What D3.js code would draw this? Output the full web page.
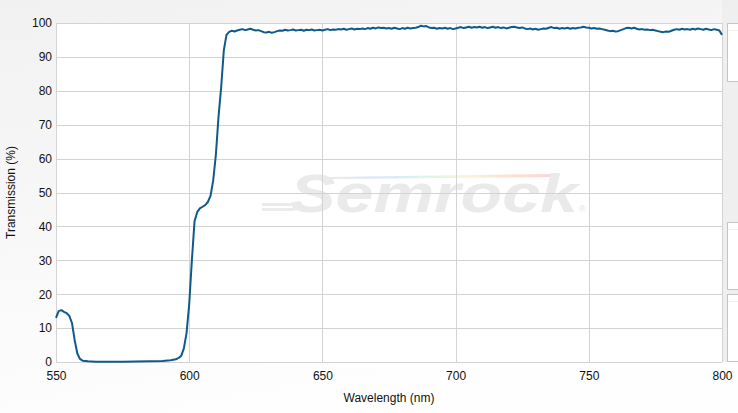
<!DOCTYPE html>
<html><head><meta charset="utf-8">
<script src="https://cdn.jsdelivr.net/npm/d3@7"></script>
<style>
html,body{margin:0;padding:0;}
body{width:738px;height:413px;overflow:hidden;}
text{font-family:"Liberation Sans",Arial,sans-serif;}
</style></head>
<body><svg id="c" width="738" height="413"></svg>
<script>
// ---- data ----
const edgeWavelength = [550,551,552,553,554,555,556,557,558,559,560,562,565,570,575,580,585,590,593,595,596,597,598,599,600,601,602,603,604,605,606,607,608,609,610,611,612,613,614];
const edgeTransmission = [13.0,15.0,15.3,14.8,14.4,13.6,11.5,6.5,2.5,0.9,0.4,0.2,0.1,0.1,0.1,0.15,0.2,0.3,0.5,0.8,1.2,1.8,4.0,8.5,17.0,30.0,41.5,44.2,45.3,45.8,46.3,47.2,49.0,53.5,61.0,72.3,81.0,92.0,96.5];
const plateauStart = 615; // nm, 1 nm sampling
const plateauTransmission = [
97.4,97.7,97.5,97.8,98.0,98.2,97.9,98.1,98.3,98.0,
97.8,97.9,97.6,97.3,97.2,97.4,97.1,97.3,97.6,97.8,
97.7,98.0,97.8,97.9,98.1,97.8,97.9,98.0,97.7,98.0,
97.9,98.1,97.8,97.9,98.0,97.8,98.0,98.2,97.9,98.1,
98.0,98.2,98.1,98.3,98.0,98.2,98.4,98.1,98.3,98.2,
98.4,98.2,98.5,98.3,98.6,98.4,98.7,98.5,98.6,98.4,
98.5,98.3,98.6,98.4,98.2,98.5,98.3,98.6,98.4,98.5,
98.6,98.8,99.2,99.0,99.1,98.7,98.5,98.6,98.3,98.5,
98.4,98.6,98.3,98.5,98.2,98.4,98.6,98.8,98.5,98.7,
98.9,98.6,98.8,98.7,98.9,98.6,98.8,98.5,98.7,98.9,
98.6,98.8,98.5,98.7,98.4,98.6,98.8,98.9,98.7,98.5,
98.7,98.4,98.2,98.4,98.1,98.3,98.0,98.2,98.4,98.3,
98.6,98.8,98.5,98.6,98.3,98.5,98.4,98.6,98.3,98.5,
98.4,98.6,98.7,98.9,98.7,98.6,98.4,98.5,98.3,98.4,
98.2,98.0,97.8,97.6,97.7,97.5,97.6,97.9,98.2,98.5,
98.6,98.4,98.6,98.3,98.1,98.2,98.0,98.1,97.9,98.0,
97.8,97.6,97.4,97.3,97.5,97.4,97.7,98.0,98.2,98.0,
98.3,98.1,98.2,98.0,98.3,98.1,98.4,98.2,98.0,98.3,
98.1,97.9,98.2,98.0,97.8,96.5];
const xTicks = [550,600,650,700,750,800];
const yTicks = [0,10,20,30,40,50,60,70,80,90,100];
const xTitle = "Wavelength (nm)";
const yTitle = "Transmission (%)";
const watermark = "Semrock";

const data = edgeWavelength.map((w,i)=>({w, t:edgeTransmission[i]}))
  .concat(plateauTransmission.map((t,i)=>({w:plateauStart+i, t})));

// ---- layout ----
const svg = d3.select("#c");
const L=56, R=722, T=23, B=362;
const x = d3.scaleLinear().domain([550,800]).range([L,R]);
const y = d3.scaleLinear().domain([0,100]).range([B,T]);

const defs = svg.append("defs");
const bg = defs.append("linearGradient").attr("id","bg").attr("x1",0).attr("y1",0).attr("x2",0.3).attr("y2",1);
bg.append("stop").attr("offset","0%").attr("stop-color","#f1f1f1");
bg.append("stop").attr("offset","100%").attr("stop-color","#fefefe");
svg.append("rect").attr("width",738).attr("height",413).attr("fill","url(#bg)");

// right side panels
svg.append("rect").attr("x",722).attr("y",0).attr("width",16).attr("height",362).attr("fill","#efefef");
[[23,82],[222,290],[294,362]].forEach(([a,b])=>{
  svg.append("rect").attr("x",727.5).attr("y",a+0.5).attr("width",20).attr("height",b-a-1)
    .attr("fill","#ffffff").attr("stroke","#c4c4c4");
  svg.append("line").attr("x1",728).attr("x2",738).attr("y1",a+7.5).attr("y2",a+7.5).attr("stroke","#f2f2f2");
});

// plot area
svg.append("rect").attr("x",L).attr("y",T).attr("width",R-L).attr("height",B-T).attr("fill","#ffffff");

// watermark
const rb = defs.append("linearGradient").attr("id","rb");
[["0%","#d8d8d8"],["25%","#b9d3f3"],["45%","#bfeed8"],["62%","#f3f0b8"],["80%","#f7c9a8"],["100%","#f4b3b8"]]
 .forEach(([o,c])=>rb.append("stop").attr("offset",o).attr("stop-color",c));
const wm = svg.append("g").attr("opacity",0.9);
wm.append("path").attr("d","M330,177 L553,174 L552,177 L329,179 Z").attr("fill","url(#rb)").attr("opacity",0.6);
wm.append("path").attr("d","M262,203 L300,203 L299,206 L262,206 Z M262,208 L296,208 L295,211 L262,211 Z").attr("fill","#e9e9e9");
wm.append("text").attr("x",290).attr("y",212).attr("font-size",54).attr("font-weight","bold")
  .attr("font-style","italic").attr("fill","#e8e8e8").attr("textLength",288).attr("lengthAdjust","spacingAndGlyphs")
  .text(watermark);
wm.append("text").attr("x",579).attr("y",212).attr("font-size",9).attr("fill","#e4e4e4").text("®");

// grid
svg.append("g").selectAll("line").data(yTicks).join("line")
  .attr("x1",L).attr("x2",R).attr("y1",d=>Math.round(y(d))+0.5).attr("y2",d=>Math.round(y(d))+0.5)
  .attr("stroke","#d3d3d3");
svg.append("g").selectAll("line").data(xTicks).join("line")
  .attr("y1",T).attr("y2",B).attr("x1",d=>Math.round(x(d))+0.5).attr("x2",d=>Math.round(x(d))+0.5)
  .attr("stroke","#d3d3d3");

// axes labels
const yAxis = d3.axisLeft(y).tickValues(yTicks).tickSize(0).tickPadding(4);
const gy = svg.append("g").attr("transform",`translate(${L},0)`).call(yAxis);
gy.select(".domain").remove();
gy.selectAll("text").attr("font-size",12).attr("fill","#111").attr("font-family","Liberation Sans, Arial, sans-serif");
const xAxis = d3.axisBottom(x).tickValues(xTicks).tickSize(0).tickPadding(9);
const gx = svg.append("g").attr("transform",`translate(0,${B})`).call(xAxis);
gx.select(".domain").remove();
gx.selectAll("text").attr("font-size",12).attr("fill","#111").attr("font-family","Liberation Sans, Arial, sans-serif");

svg.append("text").attr("x",(L+R)/2).attr("y",402).attr("text-anchor","middle").attr("font-size",12).attr("fill","#111").text(xTitle);
svg.append("text").attr("transform",`translate(15,${(T+B)/2}) rotate(-90)`).attr("text-anchor","middle")
  .attr("font-size",12).attr("fill","#111").text(yTitle);

// curve
const line = d3.line().x(d=>x(d.w)).y(d=>y(d.t)).curve(d3.curveLinear);
svg.append("path").datum(data).attr("d",line).attr("fill","none").attr("stroke","#0f5a8c")
  .attr("stroke-width",2).attr("stroke-linejoin","round");
</script></body></html>
